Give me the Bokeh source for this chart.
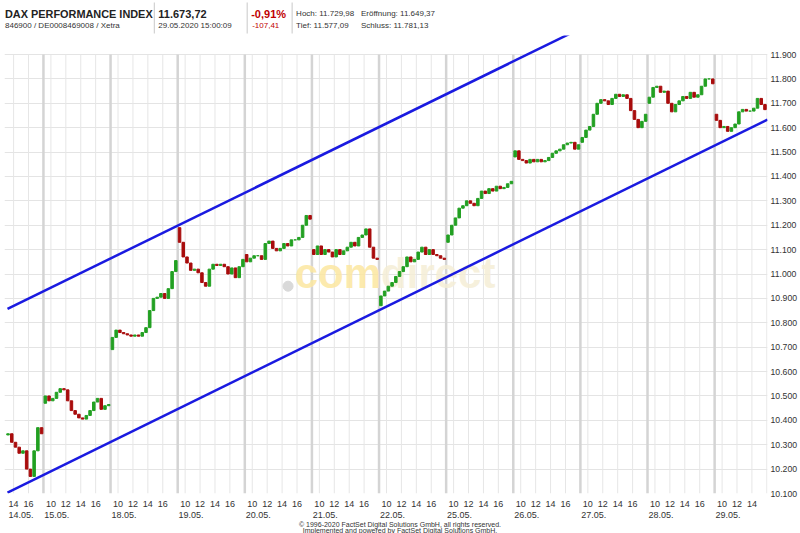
from bokeh.plotting import figure
from bokeh.layouts import column
from bokeh.models import FixedTicker, Range1d
from bokeh.embed import file_html
from bokeh.resources import INLINE
from bokeh.core.properties import value

# ---------------- data ----------------
day_labels = ["14.05.", "15.05.", "18.05.", "19.05.", "20.05.", "21.05.",
              "22.05.", "25.05.", "26.05.", "27.05.", "28.05.", "29.05."]
# first value = open at start hour, then half-hour closes
first_hour = [4.0, 0, 0, 0, 0, 0, 0, 0, 0, 0, 0, 0]   # hours after 9:00
d_1405 = [10340, 10345, 10310, 10290, 10265, 10275, 10200, 10170, 10275, 10370, 10345]
d_1505 = [10470, 10500, 10480, 10490, 10515, 10530, 10525, 10480, 10440, 10425, 10410, 10405, 10420, 10440, 10475, 10490, 10445, 10460, 10465]
d_1805 = [10690, 10740, 10770, 10760, 10755, 10750, 10745, 10750, 10745, 10760, 10780, 10850, 10900, 10905, 10920, 10900, 10940, 11010, 11055]
d_1905 = [11190, 11130, 11070, 11045, 11015, 11020, 11005, 10965, 10950, 11020, 11040, 11035, 11040, 11030, 11000, 11025, 10985, 11030, 11060]
d_2005 = [11080, 11050, 11065, 11075, 11075, 11060, 11125, 11135, 11105, 11095, 11105, 11125, 11115, 11140, 11140, 11150, 11200, 11240, 11225]
d_2105 = [11100, 11080, 11115, 11080, 11100, 11090, 11070, 11100, 11080, 11095, 11110, 11130, 11115, 11150, 11160, 11185, 11110, 11065, 11060]
d_2205 = [10870, 10910, 10930, 10950, 10965, 10990, 11010, 11030, 11070, 11050, 11060, 11090, 11110, 11080, 11100, 11080, 11075, 11065, 11060]
d_2505 = [11130, 11160, 11200, 11230, 11270, 11280, 11300, 11290, 11280, 11310, 11340, 11330, 11350, 11340, 11360, 11350, 11355, 11370, 11380]
d_2605 = [11480, 11505, 11470, 11465, 11455, 11470, 11460, 11470, 11460, 11465, 11478, 11495, 11505, 11512, 11530, 11537, 11540, 11512, 11530]
d_2705 = [11540, 11560, 11590, 11605, 11655, 11700, 11715, 11710, 11695, 11720, 11737, 11728, 11735, 11720, 11670, 11634, 11600, 11626, 11655]
d_2805 = [11700, 11725, 11765, 11770, 11745, 11750, 11700, 11665, 11695, 11710, 11728, 11720, 11745, 11725, 11735, 11770, 11800, 11800, 11780]
d_2905 = [11655, 11630, 11600, 11605, 11585, 11600, 11615, 11665, 11675, 11668, 11668, 11680, 11720, 11695, 11674]
day_series = [d_1405, d_1505, d_1805, d_1905, d_2005, d_2105,
              d_2205, d_2505, d_2605, d_2705, d_2805, d_2905]

# trend channel (x in trading hours since 14.05 09:00, y in points)
lower_x = [4.18, 106.09]
lower_y = [10104, 11633]
upper_x = [4.18, 106.09]
upper_y = [10857, 12382]

ytick_values = [10100, 10200, 10300, 10400, 10500, 10600, 10700, 10800, 10900, 11000,
                11100, 11200, 11300, 11400, 11500, 11600, 11700, 11800, 11900]
ytick_labels = ["10.100", "10.200", "10.300", "10.400", "10.500", "10.600", "10.700",
                "10.800", "10.900", "11.000", "11.100", "11.200", "11.300", "11.400",
                "11.500", "11.600", "11.700", "11.800", "11.900"]
hour_offsets = [1, 3, 5, 7]
hour_labels = ["10", "12", "14", "16"]
last_time = 105.5

UP = "#22a022"
DOWN = "#a80c0c"
BLUE = "#1a1ae0"
FONT = "Liberation Sans"
DAY = 9  # hours per day slot
LEFT, RIGHT = 4, 32   # frame borders in px
X0, X1 = 3.777, 106.09
Y0, Y1 = 10100, 11978

# ---------------- candles ----------------
cx, ctop, cbot, ccol = [], [], [], []
for d, vals in enumerate(day_series):
    for i in range(1, len(vals)):
        o, c = vals[i - 1], vals[i]
        cx.append(d * DAY + first_hour[d] + (i - 0.5) * 0.5)
        ctop.append(max(o, c))
        cbot.append(min(o, c))
        ccol.append(UP if c >= o else DOWN)

xr = Range1d(X0, X1)
p = figure(width=800, height=463, x_range=xr, y_range=Range1d(Y0, Y1),
           output_backend="svg", toolbar_location=None, y_axis_location="right",
           x_axis_location=None,
           min_border_left=LEFT, min_border_top=0, min_border_right=RIGHT, min_border_bottom=5,
           outline_line_color=None, background_fill_color="white")

p.ygrid.ticker = FixedTicker(ticks=ytick_values)
p.ygrid.grid_line_color = "#e4e4e4"
p.xgrid.grid_line_color = None

thin_x, sep_x = [], []
for d in range(len(day_labels)):
    for hh in hour_offsets:
        t = d * DAY + hh
        if X0 <= t <= X1:
            thin_x.append(t)
    if d > 0:
        sep_x.append(d * DAY)
p.segment(x0=thin_x, x1=thin_x, y0=[Y0] * len(thin_x), y1=[11900] * len(thin_x),
          line_color="#e6e6e6", line_width=1)
p.segment(x0=sep_x, x1=sep_x, y0=[Y0] * len(sep_x), y1=[11900] * len(sep_x),
          line_color="#d4d4d4", line_width=2.5)

# watermark
p.scatter(x=[41.8], y=[10950], size=10, color="#d9d9d9")
p.text(x=[54.27], y=[11004], text=["com"], text_align="right", text_baseline="middle",
       text_font=value(FONT), text_font_style="bold", text_font_size="42px",
       text_color="#fce7a0", text_alpha=0.85)
p.text(x=[54.27], y=[11004], text=["direct"], text_align="left", text_baseline="middle",
       text_font=value(FONT), text_font_style="bold", text_font_size="42px",
       text_color="#f5eed6", text_alpha=0.85)

# candles
p.vbar(x=cx, top=ctop, bottom=cbot, width=0.34, fill_color=ccol, line_color=ccol, line_width=1)

# channel lines
p.line(lower_x, lower_y, line_color=BLUE, line_width=2.5)
p.line(upper_x, upper_y, line_color=BLUE, line_width=2.5)

ya = p.yaxis[0]
ya.ticker = FixedTicker(ticks=ytick_values)
ya.major_label_overrides = {v: s for v, s in zip(ytick_values, ytick_labels)}
ya.axis_line_color = None
ya.major_tick_line_color = None
ya.minor_tick_line_color = None
ya.major_tick_out = 0
ya.major_tick_in = 0
ya.minor_tick_out = 0
ya.minor_tick_in = 0
ya.major_label_standoff = 3
ya.major_label_text_font = FONT
ya.major_label_text_font_size = "8.7px"
ya.major_label_text_color = "#333333"

# ---------------- bottom (x axis labels + copyright), y in px from page y=498 ----------------
b = figure(width=800, height=35, x_range=xr, y_range=Range1d(35, 0),
           output_backend="svg", toolbar_location=None, x_axis_type=None, y_axis_type=None,
           min_border_left=LEFT, min_border_right=RIGHT, min_border_top=0, min_border_bottom=0,
           outline_line_color=None)
b.grid.visible = False
hx, ht = [], []
for d in range(len(day_labels)):
    for hh, lab in zip(hour_offsets, hour_labels):
        t = d * DAY + hh
        if X0 <= t <= last_time:
            hx.append(t)
            ht.append(lab)
b.text(x=hx, y=[5.8] * len(hx), text=ht, text_align="center", text_baseline="alphabetic",
       text_font=value(FONT), text_font_size="9px", text_color="#333333")
dx = [4.31 if d == 0 else d * DAY + 0.12 for d in range(len(day_labels))]
b.text(x=dx, y=[16.2] * len(dx), text=day_labels, text_align="left", text_baseline="alphabetic",
       text_font=value(FONT), text_font_size="9px", text_color="#333333")
pxu = (800 - LEFT - RIGHT) / (X1 - X0)
cx_mid = X0 + (400 - LEFT) / pxu
b.text(x=[cx_mid, cx_mid], y=[25.8, 31.6],
       text=["© 1996-2020 FactSet Digital Solutions GmbH, all rights reserved.",
             "Implemented and powered by FactSet Digital Solutions GmbH."],
       text_font=value(FONT), text_font_size="7px", text_align="center",
       text_baseline="alphabetic", text_color="#333333")

# ---------------- header (x in page px) ----------------
h = figure(width=800, height=35, x_range=Range1d(LEFT, 800 - RIGHT), y_range=Range1d(35, 0),
           output_backend="svg", toolbar_location=None, x_axis_type=None, y_axis_type=None,
           min_border_left=LEFT, min_border_right=RIGHT, min_border_top=0, min_border_bottom=0,
           outline_line_color=None)
h.grid.visible = False
h.segment(x0=[154, 247, 292], x1=[154, 247, 292], y0=[2, 2, 2], y1=[33, 33, 33],
          line_color="#c8c8c8", line_width=1)
h.text(x=[4.5], y=[13], text=["DAX PERFORMANCE INDEX"], text_font=value(FONT),
       text_font_style="bold", text_font_size="10.9px", text_baseline="middle",
       text_color="#222222")
h.text(x=[158], y=[13], text=["11.673,72"], text_font=value(FONT),
       text_font_style="bold", text_font_size="11px", text_baseline="middle",
       text_color="#222222")
h.text(x=[251], y=[13], text=["-0,91%"], text_font=value(FONT),
       text_font_style="bold", text_font_size="11px", text_baseline="middle",
       text_color="#c00000")
h.text(x=[4.5, 158, 296, 361, 296, 361], y=[25, 25, 13, 13, 25, 25],
       text=["846900 / DE0008469008 / Xetra", "29.05.2020 15:00:09",
             "Hoch: 11.729,98", "Eröffnung: 11.649,37",
             "Tief: 11.577,09", "Schluss: 11.781,13"],
       text_font=value(FONT), text_font_size="8px", text_baseline="middle",
       text_color="#333333")
h.text(x=[252], y=[25], text=["-107,41"], text_font=value(FONT), text_font_size="8px",
       text_baseline="middle", text_color="#c00000")

layout = column(h, p, b, spacing=0)
open("out.html", "w").write(file_html(layout, INLINE))
